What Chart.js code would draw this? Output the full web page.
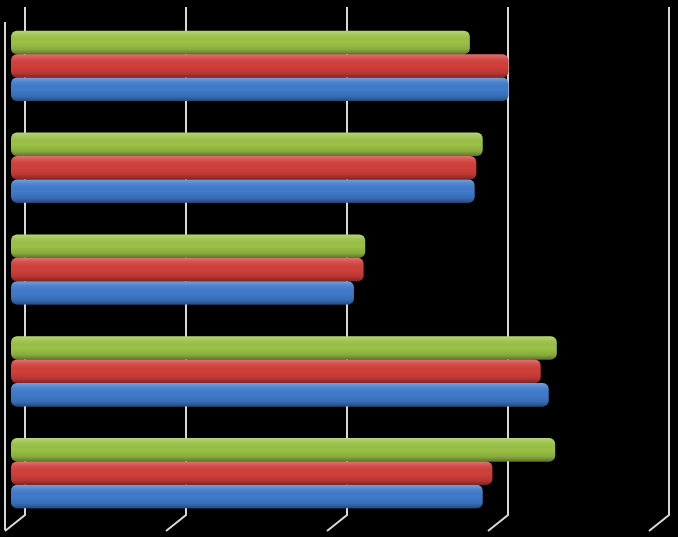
<!DOCTYPE html>
<html>
<head>
<meta charset="utf-8">
<script src="https://cdn.jsdelivr.net/npm/chart.js@4/dist/chart.umd.min.js"></script>
<style>
  html, body { margin: 0; padding: 0; background: #000; }
  #wrap { width: 678px; height: 537px; }
</style>
</head>
<body>
<div id="wrap"><canvas id="c" width="678" height="537"></canvas></div>
<script>
const categories = ['Item 1', 'Item 2', 'Item 3', 'Item 4', 'Item 5'];
const seriesGreen = [2.85, 2.93, 2.20, 3.39, 3.38];
const seriesRed   = [3.09, 2.89, 2.19, 3.29, 2.99];
const seriesBlue  = [3.09, 2.88, 2.13, 3.34, 2.93];
const tickValues  = [0, 1, 2, 3, 4];

const gridPlugin = {
  id: 'grid3d',
  beforeDraw(chart) {
    const ctx = chart.ctx;
    const xs = chart.scales.x;
    ctx.save();
    ctx.fillStyle = '#000';
    ctx.fillRect(0, 0, chart.width, chart.height);
    ctx.strokeStyle = '#d8d8d8';
    ctx.lineWidth = 2;
    tickValues.forEach(v => {
      const x = xs.getPixelForValue(v) + 14;
      ctx.beginPath();
      ctx.moveTo(x, 7);
      ctx.lineTo(x, 515);
      ctx.lineTo(x - 20, 531);
      ctx.stroke();
    });
    const x0 = xs.getPixelForValue(0) - 6;
    ctx.beginPath();
    ctx.moveTo(x0, 22);
    ctx.lineTo(x0, 530);
    ctx.stroke();
    ctx.restore();
  },
  afterDatasetsDraw(chart) {
    const ctx = chart.ctx;
    chart.data.datasets.forEach((ds, i) => {
      const meta = chart.getDatasetMeta(i);
      meta.data.forEach(el => {
        const top = el.y - el.height / 2;
        const h = el.height;
        const left = Math.min(el.base, el.x);
        const w = Math.abs(el.x - el.base);
        const g = ctx.createLinearGradient(0, top, 0, top + h);
        g.addColorStop(0, 'rgba(255,255,255,0.28)');
        g.addColorStop(0.15, 'rgba(255,255,255,0.12)');
        g.addColorStop(0.5, 'rgba(0,0,0,0)');
        g.addColorStop(0.8, 'rgba(0,0,0,0.12)');
        g.addColorStop(1, 'rgba(0,0,0,0.4)');
        ctx.save();
        ctx.beginPath();
        if (ctx.roundRect) ctx.roundRect(left, top, w, h, 6); else ctx.rect(left, top, w, h);
        ctx.clip();
        ctx.fillStyle = g;
        ctx.fillRect(left, top, w, h);
        ctx.restore();
      });
    });
  }
};

new Chart(document.getElementById('c'), {
  type: 'bar',
  data: {
    labels: categories,
    datasets: [
      { label: 'Series 3', data: seriesGreen, backgroundColor: '#9bc245' },
      { label: 'Series 2', data: seriesRed, backgroundColor: '#d23f3b' },
      { label: 'Series 1', data: seriesBlue, backgroundColor: '#3f7bcc' }
    ]
  },
  options: {
    indexAxis: 'y',
    responsive: false,
    animation: false,
    layout: { padding: { left: 11, right: 23, top: 15, bottom: 13 } },
    datasets: {
      bar: { barPercentage: 1, categoryPercentage: 0.69, borderRadius: 6, borderSkipped: false, borderWidth: 0 }
    },
    scales: {
      x: { min: 0, max: 4, display: false },
      y: { display: false }
    },
    plugins: { legend: { display: false }, tooltip: { enabled: false } }
  },
  plugins: [gridPlugin]
});
</script>
</body>
</html>
